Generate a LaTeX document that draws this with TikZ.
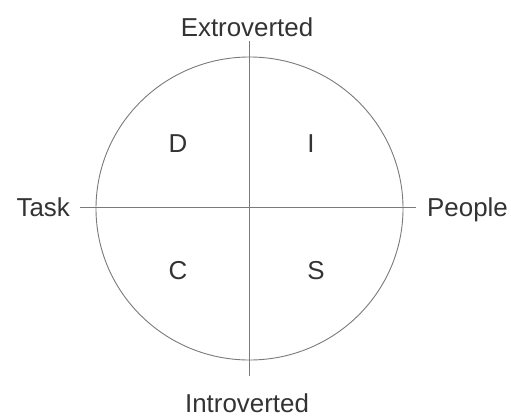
\documentclass[tikz,border=0pt]{standalone}
\usepackage{fontspec}
\setmainfont{Liberation Sans}
\definecolor{inkcolor}{HTML}{333333}
\definecolor{linecolor}{HTML}{7A7A7A}

\begin{document}
\begin{tikzpicture}[
  x=1bp, y=1bp,
  every node/.style={font=\fontsize{26}{31}\selectfont, text=inkcolor, inner sep=0pt},
]

\tikzset{
  axislabel/.style={anchor=base},
  quadrant/.style={anchor=base},
  axisline/.style={linecolor, line width=0.9bp},
}

\useasboundingbox (0,0) rectangle (511,416);

% ---------------------------------------------------------------
% circle and axes
% ---------------------------------------------------------------
\coordinate (centre) at (249.5,207.5);
\draw[axisline] (centre) ellipse [x radius=153.5, y radius=151.5];

\coordinate (leftEnd)   at (80,209);
\coordinate (rightEnd)  at (416,209);
\coordinate (topEnd)    at (249,375);
\coordinate (bottomEnd) at (249,40);

\draw[axisline] (leftEnd) -- (rightEnd);
\draw[axisline] (topEnd) -- (bottomEnd);

% ---------------------------------------------------------------
% axis labels
% ---------------------------------------------------------------
\node[axislabel]             (extro)  at (247,380) {Extroverted};
\node[axislabel]             (intro)  at (247,4)   {Introverted};
\node[anchor=base east]      (task)   at (70,200)  {Task};
\node[anchor=base west]      (people) at (427,200) {People};

% ---------------------------------------------------------------
% quadrants
% ---------------------------------------------------------------
\node[quadrant] (qD) at (178,264) {D};
\node[quadrant] (qI) at (311,264) {I};
\node[quadrant] (qC) at (178,137) {C};
\node[quadrant] (qS) at (316,137) {S};

\end{tikzpicture}
\end{document}
